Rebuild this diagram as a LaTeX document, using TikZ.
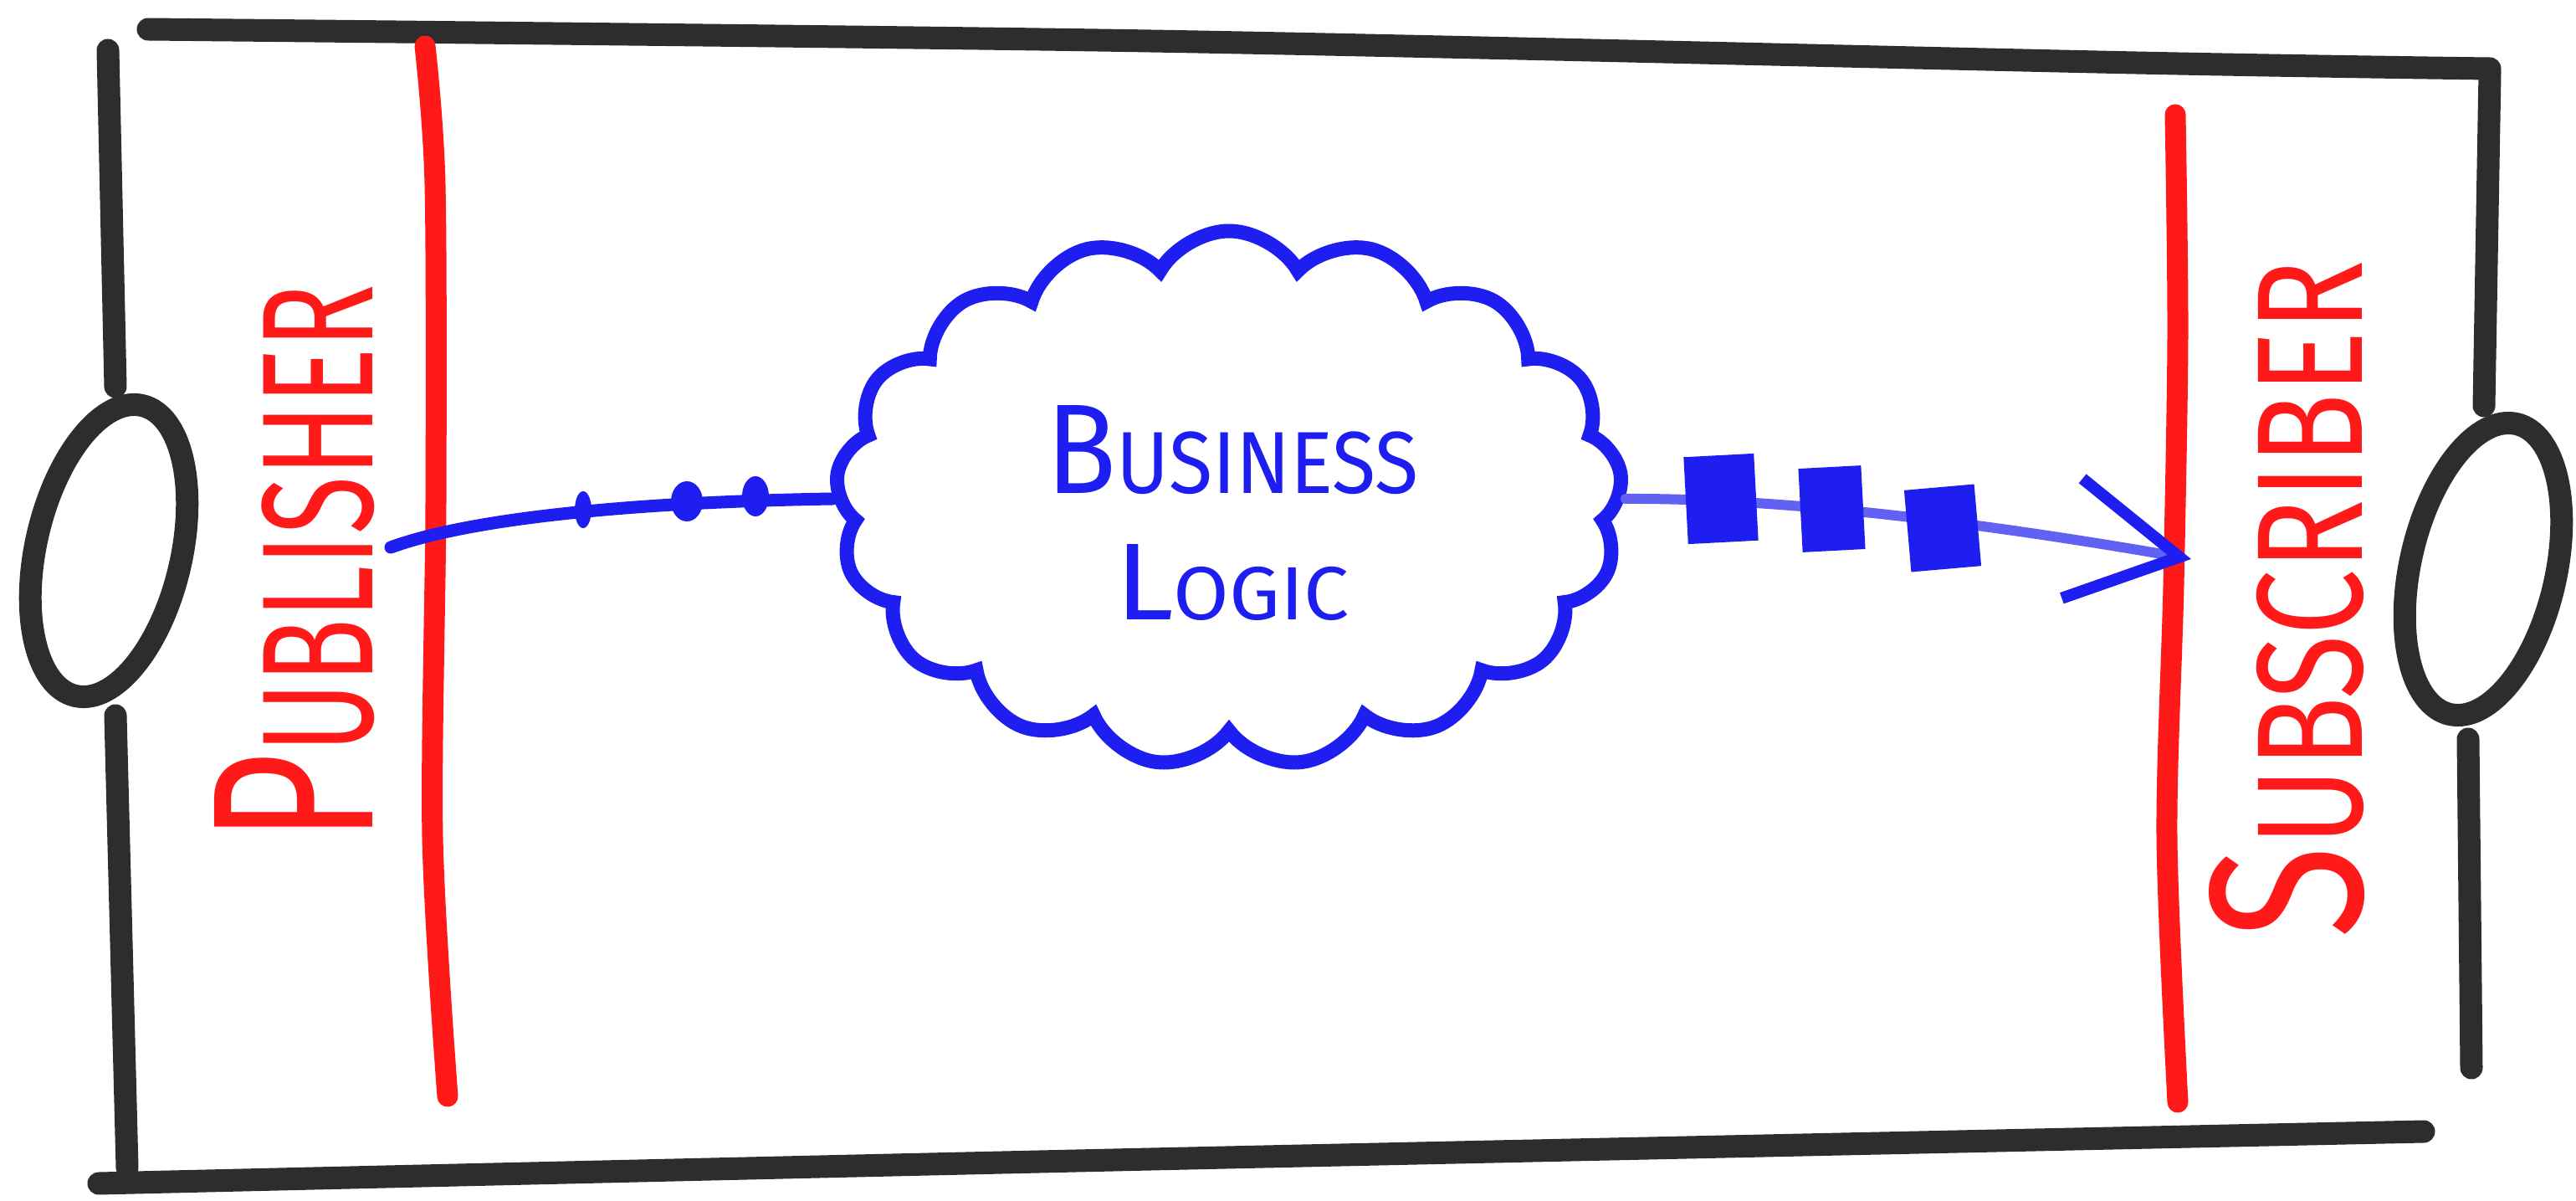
\documentclass[tikz,border=0pt]{standalone}
\usepackage{fontspec}
\setsansfont{Fira Sans}
\usetikzlibrary{shapes.symbols, arrows.meta}

% рукописная надпись: большая первая буква, остальные поменьше
\newcommand{\handword}[4]{\resizebox{#3}{#4}{\sffamily\fontsize{10}{10}\selectfont #1\fontsize{6.9}{7}\selectfont #2}}

\begin{document}
\begin{tikzpicture}[
    frame/.style={line width=0.27cm, draw=framegray, line cap=round},
    side/.style={line width=0.25cm, draw=sketchred, line cap=round},
    msgline/.style={line width=0.15cm, draw=sketchblue, line cap=round},
    label/.style={text=sketchred, rotate=90, inner sep=0}
]

    % Цвета
    \definecolor{framegray}{RGB}{45,45,45}
    \definecolor{sketchred}{RGB}{255,25,25}
    \definecolor{sketchblue}{RGB}{30,30,240}

    % Размер картинки
    \useasboundingbox (0,0) rectangle (30.79,-14.35);

    % Рамка
    \draw[frame] plot[smooth] coordinates {(1.77,-0.35) (13.75,-0.49) (25.53,-0.75) (29.76,-0.82)};
    \draw[frame] plot[smooth] coordinates {(1.18,-14.14) (13.75,-13.85) (28.97,-13.52)};
    \draw[frame] (1.29,-0.60) -- (1.38,-4.62);
    \draw[frame] (1.38,-8.55) -- (1.52,-13.95);
    \draw[frame] (29.76,-0.87) -- (29.69,-4.85);
    \draw[frame] (29.50,-8.83) -- (29.54,-12.76);

    % Кружки по бокам
    \draw[frame] (1.30,-6.58) ellipse [x radius=0.87cm, y radius=1.78cm, rotate=-13];
    \draw[frame] (29.68,-6.80) ellipse [x radius=0.87cm, y radius=1.78cm, rotate=-13];

    % Красные границы
    \draw[side] plot[smooth] coordinates {(5.08,-0.55) (5.20,-2.2) (5.21,-6.0) (5.17,-10.0) (5.35,-13.1)};
    \draw[side] plot[smooth] coordinates {(26.00,-1.37) (26.03,-4.00) (25.98,-7.00) (25.90,-10.00) (26.03,-13.17)};

    % Подписи
    \node[label] (pub) at (3.52,-6.73) {\handword{P}{UBLISHER}{6.67cm}{1.89cm}};
    \node[label] (sub) at (27.34,-7.16) {\handword{S}{UBSCRIBER}{8.10cm}{1.83cm}};

    % Облако
    \node[cloud, draw=sketchblue, line width=0.17cm, cloud puffs=17, cloud puff arc=120,
          minimum width=9.4cm, minimum height=6.4cm, inner sep=0] (logic) at (14.69,-5.96) {};
    \node[text=sketchblue, align=center, inner sep=0] (logictext) at (14.73,-6.13)
          {\handword{B}{USINESS}{4.45cm}{1.05cm}\\[0.57cm]\handword{L}{OGIC}{2.80cm}{0.90cm}};

    % Входящие сообщения
    \coordinate (pubout) at (4.67,-6.54);
    \draw[msgline] (pubout) .. controls (5.6,-6.2) and (7.5,-6.0) .. (logic.west);
    \fill[sketchblue] (6.97,-6.09) ellipse [x radius=0.10cm, y radius=0.22cm];
    \fill[sketchblue] (8.21,-5.99) ellipse [x radius=0.19cm, y radius=0.24cm];
    \fill[sketchblue] (9.03,-5.93) ellipse [x radius=0.16cm, y radius=0.24cm];

    % Исходящие сообщения
    \coordinate (subin) at (26.19,-6.68);
    \draw[msgline, line width=0.12cm, draw=sketchblue!70,
          -{Straight Barb[length=1.3cm, width=1.45cm, line width=0.14cm, color=sketchblue]}]
          (logic.east) .. controls (21.5,-5.95) and (24,-6.3) .. (subin);
    \fill[sketchblue, rotate around={3:(20.57,-5.96)}] (20.15,-5.44) rectangle (20.99,-6.48);
    \fill[sketchblue, rotate around={3:(21.90,-6.08)}] (21.52,-5.58) rectangle (22.27,-6.58);
    \fill[sketchblue, rotate around={5:(23.22,-6.31)}] (22.80,-5.82) rectangle (23.64,-6.80);

\end{tikzpicture}
\end{document}
